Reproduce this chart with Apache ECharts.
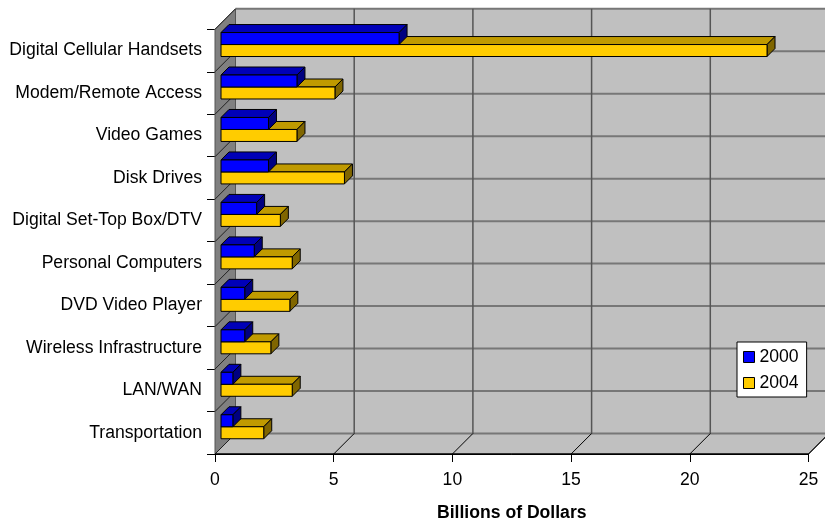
<!DOCTYPE html>
<html>
<head>
<meta charset="utf-8">
<script src="https://cdn.jsdelivr.net/npm/echarts@6/dist/echarts.min.js"></script>
<style>
html,body{margin:0;padding:0;background:#fff;}
#chart{width:825px;height:522px;}
</style>
</head>
<body>
<div id="chart"></div>
<script>
const categories = ['Digital Cellular Handsets','Modem/Remote Access','Video Games','Disk Drives','Digital Set-Top Box/DTV','Personal Computers','DVD Video Player','Wireless Infrastructure','LAN/WAN','Transportation'];
const values2000 = [7.5, 3.2, 2.0, 2.0, 1.5, 1.4, 1.0, 1.0, 0.5, 0.5];
const values2004 = [23.0, 4.8, 3.2, 5.2, 2.5, 3.0, 2.9, 2.1, 3.0, 1.8];
const xTicks = [0, 5, 10, 15, 20, 25];
const seriesNames = ['2000', '2004'];
const axisTitle = 'Billions of Dollars';

const FONT = '"Liberation Sans", Arial, sans-serif';
const FS = 17.6;
const WALL_D = 20.5;   // wall depth in px
const BAR_OFF = 6;     // bar offset into depth
const BAR_D = 8;       // bar depth
const BAR_FRAC = 12 / 42.5;

function wallsRender(params, api) {
  const c0 = api.coord([xTicks[0], 0]);
  const bw = api.size([0, 1])[1];
  const n = categories.length;
  const yTop = c0[1] - bw / 2;
  const yBot = yTop + n * bw;
  const xL = c0[0];
  const xR = api.coord([xTicks[xTicks.length - 1], 0])[0];
  const D = WALL_D;
  const ch = [];
  ch.push({type:'rect', shape:{x:xL + D, y:yTop - D, width:xR - xL + 40, height:yBot - yTop}, style:{fill:'#C0C0C0'}});
  ch.push({type:'polygon', shape:{points:[[xL,yBot],[xR,yBot],[xR+D,yBot-D],[xL+D,yBot-D]]}, style:{fill:'#C0C0C0', stroke:'#000', lineWidth:1}});
  for (let k = 0; k <= n; k++) {
    const y = yTop + k * bw - D;
    ch.push({type:'line', shape:{x1:xL + D, y1:y, x2:xR + D + 40, y2:y}, style:{stroke:'#777', lineWidth:2}});
  }
  xTicks.forEach(t => {
    const x = api.coord([t, 0])[0];
    if (t !== xTicks[0]) ch.push({type:'line', shape:{x1:x + D, y1:yTop - D, x2:x + D, y2:yBot - D}, style:{stroke:'#555', lineWidth:1.5}});
    ch.push({type:'line', shape:{x1:x, y1:yBot, x2:x + D, y2:yBot - D}, style:{stroke:'#000', lineWidth:1}});
  });
  ch.push({type:'polygon', shape:{points:[[xL,yTop],[xL+D,yTop-D],[xL+D,yBot-D],[xL,yBot]]}, style:{fill:'#808080', stroke:'#555', lineWidth:1}});
  for (let k = 0; k <= n; k++) {
    const y = yTop + k * bw;
    ch.push({type:'line', shape:{x1:xL, y1:y, x2:xL + D, y2:y - D}, style:{stroke:'#222', lineWidth:1}});
  }
  ch.push({type:'line', shape:{x1:xL, y1:yBot, x2:xR, y2:yBot}, style:{stroke:'#000', lineWidth:1}});
  return {type:'group', children:ch};
}

function barRender(isUpper, front, top, side) {
  return function (params, api) {
    const v = api.value(0), c = api.value(1);
    const p0 = api.coord([0, c]);
    const p1 = api.coord([v, c]);
    const bw = api.size([0, 1])[1];
    const H = bw * BAR_FRAC;
    const sx = BAR_OFF, sy = -BAR_OFF, d = BAR_D;
    const yT = isUpper ? p0[1] - H + sy : p0[1] + sy;
    const yB = isUpper ? p0[1] + sy : p0[1] + H + sy;
    const x0 = p0[0] + sx, x1 = p1[0] + sx;
    const st = {stroke:'#000', lineWidth:1};
    return {type:'group', children:[
      {type:'polygon', shape:{points:[[x0,yT],[x1,yT],[x1+d,yT-d],[x0+d,yT-d]]}, style:Object.assign({fill:top}, st)},
      {type:'polygon', shape:{points:[[x1,yT],[x1+d,yT-d],[x1+d,yB-d],[x1,yB]]}, style:Object.assign({fill:side}, st)},
      {type:'rect', shape:{x:x0, y:yT, width:x1 - x0, height:yB - yT}, style:Object.assign({fill:front}, st)}
    ]};
  };
}

const chart = echarts.init(document.getElementById('chart'), null, {renderer:'canvas'});
chart.setOption({
  animation: false,
  backgroundColor: '#fff',
  textStyle: {fontFamily: FONT},
  grid: {left:215, right:16.5, top:29.3, bottom:68, containLabel:false, outerBoundsMode:'none'},
  legend: {
    data: seriesNames,
    orient: 'vertical',
    left: 737, top: 342,
    padding: [6, 8, 5, 6],
    itemGap: 8,
    itemWidth: 11, itemHeight: 11,
    itemTextGap: 5,
    backgroundColor: '#fff',
    borderColor: '#000', borderWidth: 1, borderRadius: 0,
    icon: 'rect',
    textStyle: {fontSize: FS, color:'#000', fontFamily: FONT, lineHeight: 18},
    itemStyle: {borderColor:'#000', borderWidth:1}
  },
  xAxis: {
    type: 'value', min: xTicks[0], max: xTicks[xTicks.length-1], interval: 5,
    name: axisTitle, nameLocation: 'middle', nameGap: 50,
    nameTextStyle: {fontSize: FS, fontWeight:'bold', color:'#000', fontFamily: FONT},
    axisLine: {show:true, lineStyle:{color:'#000', width:1}},
    axisTick: {show:true, length:8, lineStyle:{color:'#000'}},
    axisLabel: {fontSize: FS, color:'#000', margin: 17, fontFamily: FONT},
    splitLine: {show:false}
  },
  yAxis: {
    type: 'category', data: categories, inverse: true,
    axisLine: {show:true, lineStyle:{color:'#555', width:1}},
    axisTick: {show:true, length:8, lineStyle:{color:'#000'}},
    axisLabel: {fontSize: FS, color:'#000', margin: 13, fontFamily: FONT, padding:[5,0,0,0]},
    splitLine: {show:false}
  },
  series: [
    {type:'custom', name:'walls', silent:true, z:1, renderItem: wallsRender, data:[[0,0]], encode:{x:0, y:1}},
    {type:'custom', name:seriesNames[1], z:3, itemStyle:{color:'#FFCC00', borderColor:'#000', borderWidth:1},
     renderItem: barRender(false, '#FFCC00', '#C09A00', '#806600'),
     data: values2004.map((v,i)=>[v,i]), encode:{x:0, y:1}},
    {type:'custom', name:seriesNames[0], z:4, itemStyle:{color:'#0000FF', borderColor:'#000', borderWidth:1},
     renderItem: barRender(true, '#0000FF', '#0000B8', '#000080'),
     data: values2000.map((v,i)=>[v,i]), encode:{x:0, y:1}}
  ]
});
</script>
</body>
</html>
